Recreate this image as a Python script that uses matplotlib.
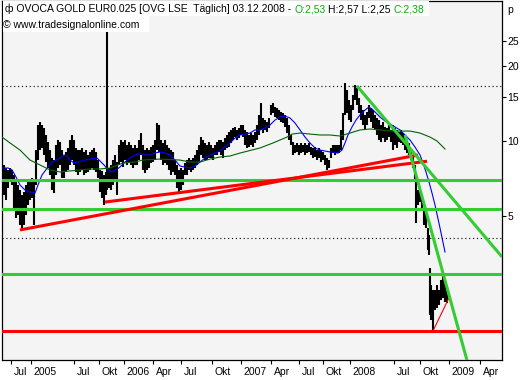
import matplotlib.pyplot as plt
from matplotlib.patches import Rectangle
from matplotlib.transforms import ScaledTranslation

# ── Data (x = chart bar position, values in pence) ──────────────────────────
x1 = [2, 4, 6, 8, 10, 12, 14, 16, 18, 20,
      22, 24, 26, 28, 30, 32, 34, 36, 38, 40,
      42, 44, 46, 48, 50, 52, 54, 56, 58, 60,
      62, 64, 66, 68, 70, 72, 74, 76, 78, 80,
      82, 84, 86, 88, 90, 92, 94, 96, 98, 100,
      102, 104, 106, 107, 109, 111, 113, 115, 117]
hi1 = [7.80, 8.02, 7.80, 7.66, 7.80, 7.66, 7.31, 6.86, 6.67, 6.37,
       6.08, 6.25, 6.67, 6.98, 6.86, 7.11, 6.98, 9.20, 11.59, 11.91,
       11.59, 11.27, 10.57, 9.91, 9.20, 8.55, 8.39, 9.64, 10.09, 9.91,
       9.20, 8.79, 9.04, 9.38, 10.09, 10.57, 10.09, 9.38, 9.20, 9.20,
       9.38, 9.04, 9.20, 8.79, 9.04, 9.20, 9.38, 9.04, 8.39, 7.66,
       7.59, 7.31, 7.52, 40.0, 7.80, 8.02, 8.39, 8.79, 8.24]
lo1 = [5.92, 6.08, 5.81, 6.49, 6.86, 6.67, 5.30, 4.92, 5.06, 4.61,
       4.49, 4.61, 5.06, 5.55, 5.81, 5.92, 4.61, 6.67, 8.39, 9.20,
       9.38, 8.79, 8.24, 7.80, 7.31, 6.37, 6.19, 7.31, 7.80, 8.02,
       7.11, 7.11, 7.52, 7.66, 8.02, 8.39, 8.02, 7.52, 7.31, 7.52,
       7.66, 7.31, 7.45, 7.52, 7.66, 7.80, 7.66, 7.52, 7.11, 6.25,
       5.92, 5.55, 6.08, 6.37, 6.49, 6.37, 6.67, 6.98, 6.08]

x2 = list(range(119, 228, 2))
hi2 = [9.64, 10.09, 9.91, 10.09, 9.64, 9.91, 9.64, 9.38, 9.64, 9.38,
       10.09, 10.76, 9.64, 9.20, 9.38, 9.20, 9.46, 9.64, 10.09, 11.80,
       11.59, 10.09, 9.82, 10.09, 9.64, 9.38, 9.20, 9.04, 8.39, 8.02,
       7.66, 7.80, 7.66, 8.17, 8.39, 8.55, 8.39, 8.55, 8.79, 9.20,
       9.64, 10.37, 10.09, 9.82, 9.64, 9.91, 9.64, 9.38, 9.64, 9.91,
       10.09, 10.09, 9.91, 10.28, 10.57]
lo2 = [8.02, 8.24, 7.87, 8.39, 8.02, 8.17, 8.02, 7.80, 8.02, 8.02,
       8.39, 8.79, 7.66, 7.45, 7.66, 7.80, 8.17, 8.24, 8.39, 9.20,
       9.04, 8.39, 8.02, 8.17, 8.02, 7.66, 7.31, 7.52, 7.31, 6.49,
       6.25, 6.37, 6.67, 7.31, 7.31, 7.66, 7.52, 7.66, 7.80, 8.02,
       8.24, 8.79, 8.55, 8.39, 8.39, 8.55, 8.55, 8.39, 8.79, 8.79,
       9.04, 8.79, 8.55, 9.20, 9.38]

x3 = list(range(229, 340, 2))
hi3 = [10.86, 11.07, 11.27, 11.38, 11.07, 11.27, 11.59, 11.59, 11.07, 10.86,
       10.57, 10.76, 10.57, 10.86, 11.59, 12.71, 14.19, 12.36, 12.13, 11.91,
       12.36, 13.93, 14.19, 13.68, 13.55, 13.30, 13.06, 12.94, 12.71, 12.36,
       11.59, 10.57, 9.91, 9.64, 9.82, 9.64, 9.82, 9.64, 9.82, 9.64,
       9.82, 9.46, 9.38, 9.46, 9.20, 9.38, 9.20, 9.04, 8.79, 8.55,
       8.39, 9.38, 9.64, 9.64, 9.64, 9.64]
lo3 = [9.46, 9.82, 10.09, 10.37, 10.09, 10.28, 10.57, 10.37, 9.64, 9.38,
       9.46, 9.64, 9.46, 9.82, 10.09, 10.57, 11.07, 10.76, 11.07, 10.86,
       11.27, 12.71, 12.94, 12.47, 12.36, 12.13, 11.91, 11.80, 11.38, 10.76,
       10.09, 9.64, 8.79, 8.95, 9.04, 8.79, 8.95, 9.04, 8.79, 8.95,
       9.04, 8.79, 8.55, 8.63, 8.39, 8.55, 8.24, 8.39, 8.02, 7.66,
       7.80, 8.55, 8.95, 8.79, 8.95, 8.95]

x4 = list(range(341, 416, 2))
hi4 = [11.07, 12.94, 17.06, 15.96, 14.59, 13.93, 15.28, 16.75, 16.29, 14.86,
       13.93, 13.30, 12.71, 13.06, 13.93, 13.55, 13.30, 12.71, 12.36, 12.13,
       11.59, 11.91, 11.38, 11.27, 11.59, 11.07, 11.59, 11.27, 11.07, 10.86,
       11.07, 10.76, 10.28, 10.09, 9.82, 9.20, 8.79, 8.02]
lo4 = [9.20, 10.09, 12.71, 12.94, 12.13, 11.91, 13.30, 14.59, 13.93, 12.94,
       12.13, 11.59, 11.07, 11.59, 12.36, 11.91, 11.27, 11.07, 10.57, 10.09,
       9.91, 10.28, 9.91, 10.09, 10.37, 9.91, 9.20, 9.64, 9.38, 9.91,
       9.82, 9.64, 9.20, 8.95, 8.79, 8.39, 7.80, 6.98]

x5 = [416, 418, 420, 422, 424, 426, 428, 429, 430, 431,
      433, 435, 437, 439, 441, 443, 445, 447]
hi5 = [7.11, 6.37, 6.37, 6.08, 5.40, 5.20, 4.49, 4.21, 3.10, 2.65,
       2.54, 2.54, 2.65, 2.54, 2.78, 2.99, 2.73, 2.57]
lo5 = [4.70, 5.55, 5.70, 5.30, 4.61, 4.49, 3.66, 3.50, 2.01, 1.92,
       1.74, 2.11, 2.15, 2.21, 2.31, 2.36, 2.27, 2.25]

# fast moving average (blue)
blue_x = [2, 8, 12, 16, 20, 25, 30, 35, 38, 42, 48, 52, 56, 60, 64, 67, 70, 74, 78, 85,
          90, 97, 100, 104, 108, 112, 116, 120, 125, 130, 135, 140, 145, 150, 155, 160,
          165, 170, 175, 180, 185, 190, 195, 200, 205, 210, 215, 220, 225, 230, 235, 240,
          245, 250, 255, 260, 265, 270, 275, 280, 285, 290, 295, 300, 305, 310, 315, 320,
          325, 330, 338, 342, 345, 348, 352, 356, 360, 365, 369, 372, 376, 380, 385, 390,
          395, 400, 405, 410, 415, 420, 423, 426, 429, 432, 435, 440, 445]
blue_v = [7.80, 7.80, 7.66, 7.18, 6.67, 6.37, 6.25, 6.19, 6.67, 7.31, 7.87, 8.24, 8.39,
          8.55, 8.79, 8.71, 8.39, 8.17, 8.24, 8.39, 8.47, 8.55, 8.32, 8.02, 7.66, 7.52,
          7.66, 7.87, 8.24, 8.55, 8.79, 8.95, 8.79, 8.79, 8.95, 9.04, 8.95, 8.79, 8.39,
          7.94, 7.87, 7.80, 7.94, 8.24, 8.55, 8.79, 8.95, 9.12, 9.46, 9.82, 10.28, 10.57,
          10.66, 10.76, 11.07, 11.07, 11.27, 11.59, 12.13, 12.47, 12.59, 12.36, 11.80,
          11.07, 10.37, 9.82, 9.38, 9.20, 9.12, 9.04, 8.95, 9.20, 9.82, 10.57, 11.38,
          12.13, 12.71, 13.30, 13.68, 13.43, 12.94, 12.47, 12.02, 11.69, 11.38, 11.07,
          10.57, 10.09, 9.46, 8.79, 8.17, 7.52, 6.86, 6.19, 5.55, 4.49, 3.60]

# slow moving average (dark green)
slow_x = [2, 10, 20, 30, 40, 50, 60, 70, 80, 90, 100, 110, 123, 135, 143, 160, 180, 190,
          200, 210, 220, 230, 240, 260, 273, 287, 292, 300, 310, 320, 330, 340, 350, 360,
          370, 380, 390, 400, 410, 420, 430, 437, 445]
slow_v = [10.37, 9.82, 9.20, 8.39, 8.02, 7.66, 7.52, 7.59, 7.66, 7.73, 7.73, 7.80, 8.17,
          8.24, 8.39, 8.47, 8.39, 8.24, 8.24, 8.47, 8.63, 8.71, 8.95, 9.38, 9.82, 10.37,
          10.66, 10.76, 10.66, 10.57, 10.57, 10.47, 10.76, 11.07, 11.17, 11.07, 10.96,
          10.96, 10.96, 10.76, 10.37, 10.00, 9.29]

# drawn trendlines / levels
red_up1_x, red_up1_v = [20, 418], [4.41, 8.79]
red_up2_x, red_up2_v = [105, 427], [5.70, 8.30]
red_thin_x, red_thin_v = [433, 449], [1.74, 2.36]
support_level = 1.74
green_levels = [6.98, 5.35, 2.94]
dotted_levels = [16.6, 4.09]
down1_x, down1_v = [357, 502], [16.6, 3.44]
down2_x, down2_v = [405, 470], [10.57, 1.20]

xtick_pos = [11, 31, 74, 99, 124, 153, 181, 212, 241, 271, 299, 323, 350, 394, 420, 449, 480]
xtick_lab = ["Jul", "2005", "Jul", "Okt", "2006", "Apr", "Jul", "Okt", "2007", "Apr",
             "Jul", "Okt", "2008", "Jul", "Okt", "2009", "Apr"]
ytick_vals = [5, 10, 15, 20, 25]

# ── Style ───────────────────────────────────────────────────────────────────
W, H = 531, 380
BG = "#f4f4f4"
LIME = "#33cc33"
RED = "#ff0000"
FONT = "Liberation Sans"
FS = 7.5
plt.rcParams["font.family"] = [FONT, "DejaVu Sans"]

fig = plt.figure(figsize=(W / 100, H / 100), dpi=100)
ax = fig.add_axes([2 / W, 20 / H, 500 / W, 359 / H])
ax.set_facecolor(BG)
ax.set_yscale("log")
ax.set_xlim(2, 502)
ax.set_ylim(1.331, 36.3)

# price bars
bx = x1 + x2 + x3 + x4 + x5
bh = hi1 + hi2 + hi3 + hi4 + hi5
bl = lo1 + lo2 + lo3 + lo4 + lo5
ax.vlines(bx, bl, bh, color="black", lw=1.5, zorder=2)

# moving averages
ax.plot(blue_x, blue_v, color="#0000ff", lw=0.8, zorder=3)
ax.plot(slow_x, slow_v, color="#006400", lw=0.8, zorder=3)

# levels
for lv in dotted_levels:
    ax.axhline(lv, color="black", lw=0.8, ls=(0, (1, 2.5)), zorder=1)
for lv in green_levels:
    ax.axhline(lv, color=LIME, lw=2.2, zorder=4)
ax.axhline(support_level, color=RED, lw=2.2, zorder=4)

# trendlines
ax.plot(red_up1_x, red_up1_v, color=RED, lw=2.2, zorder=4, solid_capstyle="butt")
ax.plot(red_up2_x, red_up2_v, color=RED, lw=2.2, zorder=4, solid_capstyle="butt")
ax.plot(red_thin_x, red_thin_v, color=RED, lw=0.8, zorder=4)
ax.plot(down1_x, down1_v, color=LIME, lw=2.2, zorder=4, solid_capstyle="butt")
ax.plot(down2_x, down2_v, color=LIME, lw=2.2, zorder=4, solid_capstyle="butt")

# axes
for s in ax.spines.values():
    s.set_linewidth(0.9)
ax.yaxis.tick_right()
ax.set_yticks(ytick_vals)
ax.set_yticklabels([str(v) for v in ytick_vals])
ax.yaxis.set_minor_locator(plt.NullLocator())
ax.tick_params(axis="y", direction="out", length=3, width=0.8, pad=1, labelsize=FS)
ax.set_xticks(xtick_pos)
ax.set_xticklabels(xtick_lab, ha="left")
ax.tick_params(axis="x", direction="out", length=3, width=0.8, pad=2, labelsize=FS)
off = ScaledTranslation(2 / 72, 0, fig.dpi_scale_trans)
for lab in ax.get_xticklabels():
    lab.set_transform(lab.get_transform() + off)

# header boxes and text
ax.add_patch(Rectangle((3 / W, 1 - 16 / H), 426 / W, 15 / H, transform=fig.transFigure,
                       facecolor="white", edgecolor="none", zorder=5, clip_on=False))
ax.add_patch(Rectangle((3 / W, 1 - 32 / H), 146 / W, 16 / H, transform=fig.transFigure,
                       facecolor="white", edgecolor="none", zorder=5, clip_on=False))

pieces = [("ф OVOCA GOLD EUR0.025 [OVG LSE  Täglich] 03.12.2008 -", "black"),
          ("O:2,53", "#00b000"),
          ("H:2,57 L:2,25", "black"),
          ("C:2,38", "#00b000")]
t = ax.text(5 / W, 1 - 12 / H, pieces[0][0], transform=fig.transFigure, fontsize=FS,
            color=pieces[0][1], va="baseline", ha="left", zorder=7)
for s, c in pieces[1:]:
    t = ax.annotate(s, xy=(1, 0), xycoords=t, xytext=(3, 0), textcoords="offset pixels",
                    va="bottom", ha="left", fontsize=FS, color=c, zorder=7,
                    annotation_clip=False)
ax.text(3 / W, 1 - 28 / H, "© www.tradesignalonline.com", transform=fig.transFigure,
        fontsize=FS, va="baseline", ha="left", zorder=7)
fig.text(507 / W, 1 - 13 / H, "p", fontsize=FS, va="baseline", ha="left")

fig.savefig("out.png", dpi=100, facecolor="white")
